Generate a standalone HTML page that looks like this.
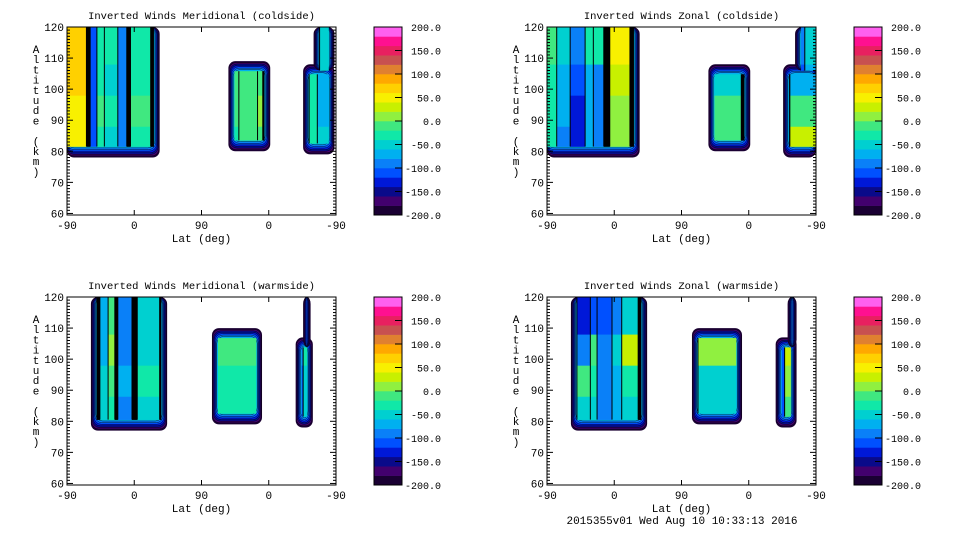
<!DOCTYPE html>
<html><head><meta charset="utf-8"><style>
body{margin:0;background:#fff}
svg{display:block;font-family:"Liberation Mono",monospace}
</style></head><body>
<svg id="c" width="960" height="540" xmlns="http://www.w3.org/2000/svg"></svg>
<script>
// colour scale data
const levelMin = -200, levelStep = 20;
const palette = ["#1a0033","#42006e","#0a0a8a","#0018d8","#0050ff","#0a80f8","#00b0f0","#00d0d0","#10e8a8","#40e880","#90f040","#c8f000","#f8f000","#ffd000","#ffa800","#e08030","#c85050","#e82060","#ff1090","#ff60f0"];
const cbLabels = ["200.0","150.0","100.0","50.0","0.0","-50.0","-100.0","-150.0","-200.0"];
const xTickLabels = ["-90","0","90","0","-90"];
const yTickLabels = [60,70,80,90,100,110,120];
const bandAlts = [88,98,108]; // band splits

// panel titles
const titles = ["Inverted Winds Meridional (coldside)","Inverted Winds Zonal (coldside)","Inverted Winds Meridional (warmside)","Inverted Winds Zonal (warmside)"];

// swath data: [u0,u1,bottomAlt,topAlt], column edges (orbit units 0..360), values per column per altitude band
const tlSwaths = [[0,124,78,120],[216,272,80,109],[316,358,79,108],[330,358,106,120]];
const tlEdges = [[0,26,31,40,50,68,80,85,112,124],[216,230,255,262,272],[316,322,335,358],[330,336,358]];
const tlVals = [
 [[50,40,60,60],null,[-110,-110,-110,-110],[-40,-20,-30,-40],[-50,-40,-50,-40],[-100,-100,-100,-100],null,[-40,-20,-30,-30],null],
 [[-30,-10,-20,-60],[-20,-10,-10,-60],[-10,0,-20,-60],null],
 [[-150,-150,-150,-150],[-40,-30,-40,-50],[-60,-70,-80,-60]],
 [null,[-60,-60,-60,-50]]];

const trSwaths = [[0,124,78,120],[216,272,80,108],[316,360,78,108],[332,360,106,120]];
const trEdges = [[0,13,31,51,62,76,84,111,124],[216,260,272],[316,325,360],[332,345,360]];
const trVals = [
 [[-30,-40,-30,-20],[-90,-80,-70,-60],[-130,-140,-120,-100],[-70,-80,-70,-40],[-100,-100,-90,-40],null,[0,0,20,40],null],
 [[-10,-20,-60,-60],null],
 [null,[20,-10,-80,-100]],
 [[-110,-110,-110,-90],[-80,-80,-80,-60]]];

const blSwaths = [[32,134,77,120],[194,261,79,110],[306,329,78,107],[316,326,104,120]];
const blEdges = [[32,40,44,55,64,68,87,94,124,134],[194,255,261],[306,316,329],[316,322,326]];
const blVals = [
 [[0,30,40,40],null,[-60,-60,-70,-80],[-30,-10,0,-10],null,[-90,-80,-90,-90],null,[-50,-30,-50,-60],null],
 [[-40,-40,-20,-60],null],
 [[-110,-110,-100,-120],[-60,-50,-40,-60]],
 [null,[20,20,20,20]]];

const brSwaths = [[32,134,77,120],[194,261,79,110],[306,334,78,107],[322,334,104,120]];
const brEdges = [[32,39,58,67,87,100,122,134],[194,198,255,261],[306,318,334],[322,334]];
const brVals = [
 [null,[-60,-20,-100,-130],[-60,-30,-20,-110],[-100,-100,-90,-120],[-70,-80,-60,-100],[-60,-30,20,-60],null],
 [null,[-60,-60,10,-60],null],
 [[-110,-110,-110,-110],[-20,0,30,-40]],
 [null]];

const panelSwaths = [tlSwaths,trSwaths,blSwaths,brSwaths];
const panelEdges = [tlEdges,trEdges,blEdges,brEdges];
const panelVals = [tlVals,trVals,blVals,brVals];
const panelNames = ["meridional-coldside","zonal-coldside","meridional-warmside","zonal-warmside"];

const NS="http://www.w3.org/2000/svg";
const svg=document.getElementById('c');
function mk(tag,attrs,parent){const e=document.createElementNS(NS,tag);for(const k in attrs)e.setAttribute(k,attrs[k]);(parent||svg).appendChild(e);return e;}
function colorOf(v){let i=Math.floor((v-levelMin)/levelStep);i=Math.max(0,Math.min(palette.length-1,i));return palette[i];}

const PW=269, PH=188;
const origins=[[67,27],[547,27],[67,297],[547,297]];

origins.forEach((o,pi)=>{
  const ox=o[0], oy=o[1];
  const xs=u=>ox+u/360*PW;
  const ys=a=>oy+PH-(a-59.5)/60.5*PH;
  const g=mk('g',{});
  
  
  const clipId='clip'+pi;
  const cp=mk('clipPath',{id:clipId},g);
  mk('rect',{x:ox,y:oy,width:PW,height:PH},cp);
  const cg=mk('g',{'clip-path':'url(#'+clipId+')'},g);
  
  
  panelSwaths[pi].forEach((s,si)=>{
    const sg=mk('g',{},cg);
    
    
    const x0=xs(s[0]),x1=xs(s[1]),yb=ys(s[2]),yt=ys(s[3]);
    const li=s[0]<=0?0:1, ri=s[1]>=360?0:1, ti=s[3]>=120?0:1, bi=s[2]>=100?0:1;
    const NR=7;
    for(let k=0;k<NR;k++){
      const rx0=x0+li*0.8*k, rx1=x1-ri*0.8*k, ry0=yt+ti*1.4*k, ry1=yb-bi*1.6*k;
      if(rx1<=rx0||ry1<=ry0)break;
      const r=mk('rect',{x:rx0,y:ry0,width:rx1-rx0,height:ry1-ry0,rx:7,fill:palette[k],stroke:k>0?'#000':'none','stroke-width':0.4},sg);
      
      
    }
    const ix0=x0+li*6, ix1=x1-ri*6, iyt=yt+ti*10, iyb=yb-bi*11;
    const edges=panelEdges[pi][si], vals=panelVals[pi][si];
    const bands=[s[2]].concat(bandAlts).concat([s[3]]);
    for(let c=0;c<edges.length-1;c++){
      const cx0=Math.max(ix0,xs(edges[c])), cx1=Math.min(ix1,xs(edges[c+1]));
      if(cx1<=cx0)continue;
      for(let b=0;b<4;b++){
        const lo=Math.max(bands[0],bands[b]), hi=Math.min(s[3],bands[b+1]);
        if(hi<=lo)continue;
        const cy0=Math.max(iyt,ys(hi)), cy1=Math.min(iyb,ys(lo));
        if(cy1<=cy0)continue;
        const v=vals[c]?vals[c][b]:null;
        const r=mk('rect',{x:cx0,y:cy0,width:cx1-cx0+0.3,height:cy1-cy0+0.3,fill:v===null?'#000':colorOf(v)},sg);
        
        
      }
      if(c>0){const l=mk('line',{x1:cx0,x2:cx0,y1:iyt,y2:iyb,stroke:'#000','stroke-width':1},sg);
        
        }
    }
  });
  const fr=mk('rect',{x:ox,y:oy,width:PW,height:PH,fill:'none',stroke:'#000','stroke-width':1},g);
  
  
  for(let a=60;a<=120;a++){
    const y=ys(a), len=(a%10===0)?6:3;
    mk('line',{x1:ox,x2:ox+len,y1:y,y2:y,stroke:'#000','stroke-width':1},g);
    mk('line',{x1:ox+PW,x2:ox+PW-len,y1:y,y2:y,stroke:'#000','stroke-width':1},g);
  }
  yTickLabels.forEach(a=>{
    const t=mk('text',{x:ox-3,y:ys(a)+4,'font-size':11,'text-anchor':'end'},g);
    t.textContent=a;
    
    
  });
  xTickLabels.forEach((lab,i)=>{
    const x=xs(i*90);
    mk('line',{x1:x,x2:x,y1:oy+PH,y2:oy+PH-5,stroke:'#000'},g);
    mk('line',{x1:x,x2:x,y1:oy,y2:oy+5,stroke:'#000'},g);
    const t=mk('text',{x:x,y:oy+PH+14,'font-size':11,'text-anchor':'middle'},g);
    t.textContent=lab;
    
    
  });
  const tt=mk('text',{x:ox+PW/2,y:oy-8,'font-size':10.5,'text-anchor':'middle'},g);
  tt.textContent=titles[pi];
  
  
  const xt=mk('text',{x:ox+PW/2,y:oy+PH+27,'font-size':11,'text-anchor':'middle'},g);
  xt.textContent='Lat (deg)';
  
  
  const ytg=mk('text',{x:ox-31,y:oy+26,'font-size':11,'text-anchor':'middle'},g);
  
  
  'Altitude (km)'.split('').forEach((ch,i)=>{const ts=mk('tspan',{x:ox-31,y:oy+26+i*10.2},ytg);ts.textContent=ch;});
  const cbx=ox+307, cbw=28, cbt=oy, cbh=188;
  const cb=mk('g',{},g);
  
  
  palette.forEach((col,i)=>{
    const h=cbh/palette.length;
    mk('rect',{x:cbx,y:cbt+cbh-(i+1)*h,width:cbw,height:h+0.3,fill:col},cb);
  });
  mk('rect',{x:cbx,y:cbt,width:cbw,height:cbh,fill:'none',stroke:'#000'},cb);
  cbLabels.forEach((lab,i)=>{
    const y=cbt+i*cbh/8;
    if(i>0&&i<8)mk('line',{x1:cbx+cbw-7,x2:cbx+cbw,y1:y,y2:y,stroke:'#000'},cb);
    const t=mk('text',{x:cbx+67,y:y+4,'font-size':10,'text-anchor':'end'},cb);
    t.textContent=lab;
    
    
  });
});
const ft=mk('text',{x:682,y:524,'font-size':11,'text-anchor':'middle'});
ft.textContent='2015355v01 Wed Aug 10 10:33:13 2016';


</script>
</body></html>
